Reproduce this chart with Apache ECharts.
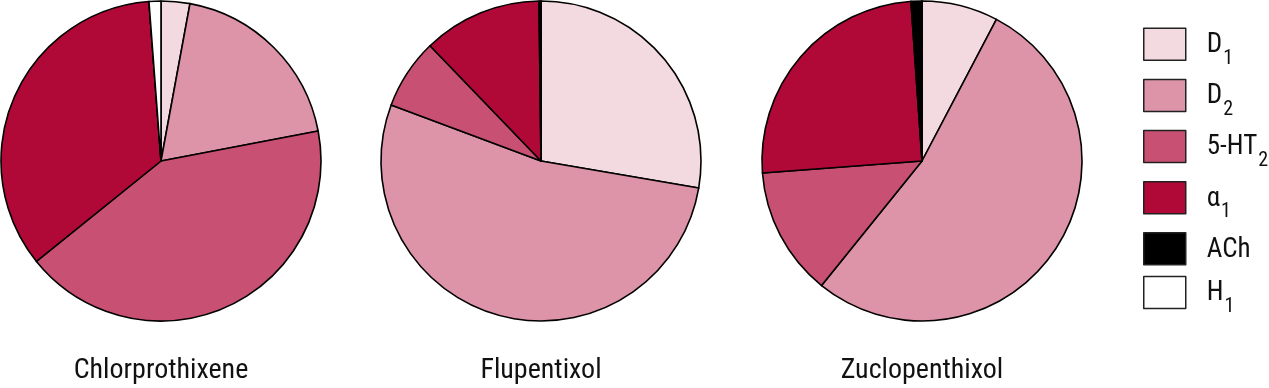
<!DOCTYPE html>
<html>
<head>
<meta charset="utf-8">
<script src="https://cdn.jsdelivr.net/npm/echarts@6/dist/echarts.min.js"></script>
<style>
html,body{margin:0;padding:0;background:#fff;}
#chart{width:1269px;height:388px;}
</style>
</head>
<body>
<div id="chart"></div>
<script>
// Receptor categories (legend order = slice order, clockwise from 12 o'clock)
const receptors = ['D1', 'D2', '5-HT2', 'α1', 'ACh', 'H1'];
const receptorMain = ['D', 'D', '5-HT', 'α', 'ACh', 'H'];
const receptorSub = ['1', '2', '2', '1', '', '1'];
const receptorColors = ['#f3d9e0', '#dd93a8', '#c85072', '#b00937', '#000000', '#ffffff'];

// Drugs
const drugs = ['Chlorprothixene', 'Flupentixol', 'Zuclopenthixol'];

// Relative receptor shares (%) per drug
const chlorprothixene = [2.9, 19.1, 42.2, 34.6, 0, 1.2];
const flupentixol = [27.7, 53.0, 7.1, 12.0, 0.2, 0];
const zuclopenthixol = [7.7, 53.1, 13.0, 25.1, 1.1, 0];

const drugValues = [chlorprothixene, flupentixol, zuclopenthixol];

const FONT = '"Roboto Condensed", "Liberation Sans Narrow", "DejaVu Sans Condensed", sans-serif';
const pieCentersX = [161, 541, 922];

const chart = echarts.init(document.getElementById('chart'), null, {renderer: 'canvas'});

const series = drugValues.map((vals, i) => ({
  type: 'pie',
  name: drugs[i],
  center: [pieCentersX[i], 161],
  radius: [0, 160],
  startAngle: 90,
  clockwise: true,
  avoidLabelOverlap: false,
  animation: false,
  silent: true,
  label: {show: false},
  labelLine: {show: false},
  emphasis: {disabled: true},
  itemStyle: {borderColor: '#000', borderWidth: 1.6},
  data: receptors.map((r, k) => ({name: r, value: vals[k], itemStyle: {color: receptorColors[k]}}))
}));

const option = {
  backgroundColor: '#fff',
  animation: false,
  title: drugs.map((d, i) => ({
    text: d,
    left: pieCentersX[i],
    top: 357,
    textAlign: 'center',
    padding: 0,
    textStyle: {fontFamily: FONT, fontSize: 28, fontWeight: 'normal', color: '#111'}
  })),
  legend: {
    orient: 'vertical',
    left: 1143,
    top: 19.5,
    padding: 0,
    itemWidth: 42,
    itemHeight: 32,
    itemGap: 2.1,
    icon: 'rect',
    selectedMode: false,
    data: receptors.map((r, k) => ({name: r, itemStyle: {color: receptorColors[k], borderColor: '#222', borderWidth: 1.5}})),
    formatter: function (name) {
      const k = receptors.indexOf(name);
      return '{m|' + receptorMain[k] + '}' + (receptorSub[k] ? '{s|' + receptorSub[k] + '}' : '');
    },
    textStyle: {
      fontFamily: FONT,
      padding: [0, 0, 0, 16],
      rich: {
        m: {fontFamily: FONT, fontSize: 27, lineHeight: 49.7, color: '#111', verticalAlign: 'top', padding: [12.5, 0, 0, 0]},
        s: {fontFamily: FONT, fontSize: 20, lineHeight: 49.7, color: '#111', verticalAlign: 'top', padding: [29, 0, 0, 1]}
      }
    }
  },
  series: series
};
chart.setOption(option);
</script>
</body>
</html>
